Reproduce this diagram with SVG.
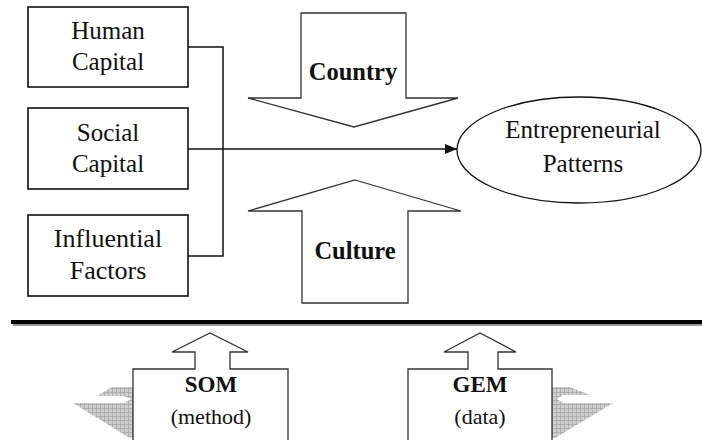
<svg xmlns="http://www.w3.org/2000/svg" width="702" height="440" viewBox="0 0 702 440">
<style>
.box{fill:#fff;stroke:#111;stroke-width:1.6}
.arr{fill:#fff;stroke:#333;stroke-width:1.3;stroke-linejoin:miter}
.t{font-family:'Liberation Serif','Times New Roman','DejaVu Serif',serif;fill:#111;text-anchor:middle}
.b{font-weight:bold}
.con{fill:none;stroke:#111;stroke-width:1.5}
.sh{fill:url(#grid)}
</style>
<defs>
<pattern id="grid" width="4" height="4" patternUnits="userSpaceOnUse">
<rect width="4" height="4" fill="#cfcfcf"/>
<path d="M0 0.5H4M0.5 0V4" stroke="#a8a8a8" stroke-width="0.8"/>
</pattern>
<marker id="ah" markerWidth="12" markerHeight="10" refX="12" refY="5" orient="auto" markerUnits="userSpaceOnUse">
<path d="M0 0L12 5L0 10Z" fill="#111"/>
</marker>
</defs>
<rect width="702" height="440" fill="#fff"/>

<g id="connectors">
<path class="con" d="M188 47H223V256H188"/>
<path class="con" d="M188 149H457" marker-end="url(#ah)"/>
</g>

<g id="human-capital">
<rect class="box" x="28" y="7" width="160" height="80"/>
<text class="t" x="108" y="39" font-size="25">Human</text>
<text class="t" x="108" y="70" font-size="25">Capital</text>
</g>
<g id="social-capital">
<rect class="box" x="28" y="108" width="160" height="81"/>
<text class="t" x="108" y="141" font-size="25">Social</text>
<text class="t" x="108" y="172" font-size="25">Capital</text>
</g>
<g id="influential-factors">
<rect class="box" x="28" y="215" width="160" height="81"/>
<text class="t" x="108" y="247" font-size="26">Influential</text>
<text class="t" x="108" y="279" font-size="26">Factors</text>
</g>

<g id="country">
<polygon class="arr" points="301,13 406,13 406,98 458,98 354,127 248,98 301,98"/>
<text class="t b" x="353" y="80" font-size="24.5">Country</text>
</g>
<g id="culture">
<polygon class="arr" points="355,180 461,211 408,211 408,303 302,303 302,211 248,211"/>
<text class="t b" x="355" y="259" font-size="24.5">Culture</text>
</g>

<g id="entrepreneurial-patterns">
<ellipse cx="579" cy="150" rx="122" ry="53" fill="#fff" stroke="#111" stroke-width="1.3"/>
<text class="t" x="583" y="138" font-size="25">Entrepreneurial</text>
<text class="t" x="583" y="172" font-size="25">Patterns</text>
</g>

<g id="divider">
<line x1="13" y1="325" x2="702" y2="325" stroke="#999" stroke-width="2"/>
<line x1="11" y1="322" x2="702" y2="322" stroke="#000" stroke-width="4"/>
</g>

<g id="som">
<polygon class="sh" points="112,387 134,387 134,438 128,437 73,403 124,403 131,399 124,396 97,396"/>
<polygon class="arr" points="133,369 195,369 195,352 172,352 210,333 248,352 230,352 230,369 288,369 288,444 133,444"/>
<text class="t b" x="211" y="392" font-size="23">SOM</text>
<text class="t" x="211" y="424" font-size="22">(method)</text>
</g>

<g id="gem">
<polygon class="sh" points="551,387 570,387 590,395 563,395 557,399 563,403 613,403 555,438 551,438"/>
<polygon class="arr" points="408,369 468,369 468,352 444,352 480,333 516,352 498,352 498,369 552,369 552,444 408,444"/>
<text class="t b" x="480" y="392" font-size="23">GEM</text>
<text class="t" x="480" y="424" font-size="22">(data)</text>
</g>
</svg>
